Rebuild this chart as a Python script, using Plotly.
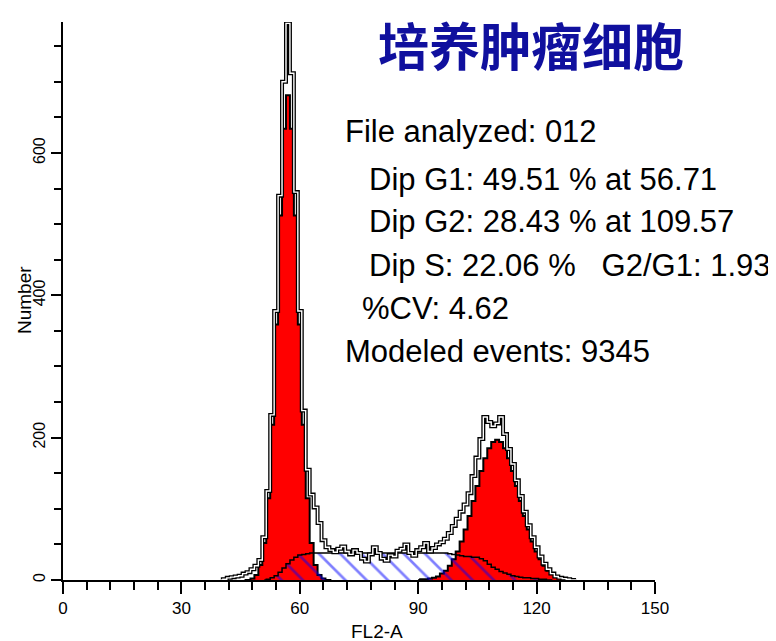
import plotly.graph_objects as go

# ---------------- data ----------------
raw_channels = list(range(40, 131))
raw_counts = [
    0, 1, 3, 4, 5, 6, 9, 11, 15, 20,            # 40-49
    28, 60, 125, 232, 378, 540, 700, 782, 712, 545,  # 50-59
    378, 238, 155, 120, 102, 80, 56, 46, 42, 39,     # 60-69
    44, 47, 40, 36, 42, 38, 30, 26, 36, 46,          # 70-79
    38, 30, 27, 35, 33, 41, 44, 50, 38, 34,          # 80-89
    42, 46, 52, 40, 45, 50, 53, 58, 66, 76,          # 90-99
    86, 96, 106, 122, 146, 172, 198, 229, 222, 216,  # 100-109
    220, 229, 205, 184, 163, 140, 118, 96, 77, 60,   # 110-119
    46, 33, 23, 15, 9, 5, 3, 2, 1, 0,                # 120-129
    0,                                               # 130
]

g1_channels = list(range(46, 69))
g1_counts = [0, 0, 2, 7, 21, 52, 115, 218, 359, 512, 634, 681,
             634, 512, 359, 218, 115, 52, 21, 7, 2, 0, 0]

g2_channels = list(range(90, 131))
g2_counts = [0, 1, 1, 2, 3, 5, 9, 13, 20, 29,
             40, 54, 71, 90, 111, 132, 153, 171, 185, 194,
             197, 194, 185, 171, 153, 132, 111, 90, 71, 54,
             40, 29, 20, 13, 9, 5, 3, 2, 1, 0, 0]

s_channels = list(range(51, 125))
s_counts = [0, 1, 3, 6, 11, 17, 23, 28, 32, 35, 36, 37,
            38, 38, 38, 38, 38, 38, 38, 38, 38, 38,
            38, 38, 38, 38, 38, 38, 38, 38, 38, 38,
            38, 38, 38, 38, 38, 38, 38, 38, 38, 38,
            38, 38, 38, 38, 38,
            37, 36, 35, 34, 33, 33, 32, 32, 30, 27, 22, 18, 15,
            12, 10, 8, 6, 5, 4, 3, 3, 2, 2, 1, 1, 0, 0]

title_text = "培养肿瘤细胞"
stats_lines = [
    "File analyzed: 012",
    "Dip G1: 49.51 % at 56.71",
    "Dip G2: 28.43 % at 109.57",
    "Dip S: 22.06 %   G2/G1: 1.93",
    "%CV: 4.62",
    "Modeled events: 9345",
]
x_title = "FL2-A"
y_title = "Number"
x_ticks = [0, 30, 60, 90, 120, 150]
y_ticks = [0, 200, 400, 600]

assert len(raw_counts) == len(raw_channels)
assert len(g1_counts) == len(g1_channels)
assert len(g2_counts) == len(g2_channels)
assert len(s_counts) == len(s_channels)

# ---------------- figure ----------------
W, H = 776, 641
OFF = 8  # the page body adds an 8px margin; compensate so the chart lands where the reference has it
# target plot box on screen: x 63..655, y 22..580
L, T = 63 - OFF, 22 - OFF
R = W - (655 - OFF)
B = H - (580 - OFF)
FONT = "Liberation Sans, Arial, sans-serif"

fig = go.Figure()

for xs, ys in ((g1_channels, g1_counts), (g2_channels, g2_counts)):
    fig.add_trace(go.Scatter(
        x=xs, y=ys, mode="lines", line=dict(color="black", width=2, shape="hvh"),
        fill="tozeroy", fillcolor="#ff0000", hoverinfo="skip", showlegend=False))

fig.add_trace(go.Scatter(
    x=s_channels, y=s_counts, mode="lines",
    line=dict(color="black", width=1.5, shape="hvh"),
    fill="tozeroy", fillcolor="rgba(0,0,0,0)",
    fillpattern=dict(shape="\\", fgcolor="#0000ff", bgcolor="rgba(0,0,0,0)",
                     fillmode="overlay", size=15, solidity=0.18),
    hoverinfo="skip", showlegend=False))

# raw data drawn as a hollow (double) line
fig.add_trace(go.Scatter(
    x=raw_channels, y=raw_counts, mode="lines",
    line=dict(color="black", width=4, shape="hvh"), hoverinfo="skip", showlegend=False))
fig.add_trace(go.Scatter(
    x=raw_channels, y=raw_counts, mode="lines",
    line=dict(color="white", width=1.4, shape="hvh"), hoverinfo="skip", showlegend=False))

pw, ph = 655 - 63, 580 - 22


def px(xp):  # screen x -> paper
    return (xp - 63) / pw


def py(yp):  # screen y -> paper
    return (580 - yp) / ph


line_pos = [(343, 131), (367, 179), (367, 221), (367, 265), (360, 308), (343, 351)]
for txt, (xp, yp) in zip(stats_lines, line_pos):
    fig.add_annotation(x=px(xp), y=py(yp), xref="paper", yref="paper", text=txt,
                       showarrow=False, xanchor="left", yanchor="middle",
                       font=dict(family=FONT, size=31, color="black"))

fig.add_annotation(x=px(531), y=py(44), xref="paper", yref="paper",
                   text="<b>" + title_text + "</b>", showarrow=False,
                   xanchor="center", yanchor="middle",
                   font=dict(family="Noto Sans CJK SC", size=51, color="#10109e"))

# axis titles
fig.add_annotation(x=px(377), y=py(631), xref="paper", yref="paper", text=x_title,
                   showarrow=False, xanchor="center", yanchor="middle",
                   font=dict(family=FONT, size=19, color="black"))
fig.add_annotation(x=px(24), y=py(300), xref="paper", yref="paper", text=y_title,
                   showarrow=False, xanchor="center", yanchor="middle", textangle=-90,
                   font=dict(family=FONT, size=19, color="black"))

fig.update_layout(
    width=W, height=H, margin=dict(l=L, r=R, t=T, b=B, pad=0, autoexpand=False),
    paper_bgcolor="white", plot_bgcolor="white",
    font=dict(family=FONT, color="black", size=16),
    xaxis=dict(range=[0, 150], tickvals=x_ticks, ticks="outside", ticklen=12,
               tickwidth=2, tickcolor="black", showline=True, linecolor="black",
               linewidth=2, showgrid=False, zeroline=False, automargin=False,
               minor=dict(dtick=6, ticks="outside", ticklen=8, tickwidth=2,
                          tickcolor="black", showgrid=False),
               tickfont=dict(size=17)),
    yaxis=dict(range=[0, 784], tickvals=y_ticks, ticks="outside", ticklen=10,
               tickwidth=2, tickcolor="black", showline=True, linecolor="black",
               linewidth=2, showgrid=False, zeroline=False, tickangle=-90,
               automargin=False,
               minor=dict(dtick=50, ticks="outside", ticklen=7, tickwidth=2,
                          tickcolor="black", showgrid=False),
               tickfont=dict(size=16)),
)

fig.write_html("out.html")
